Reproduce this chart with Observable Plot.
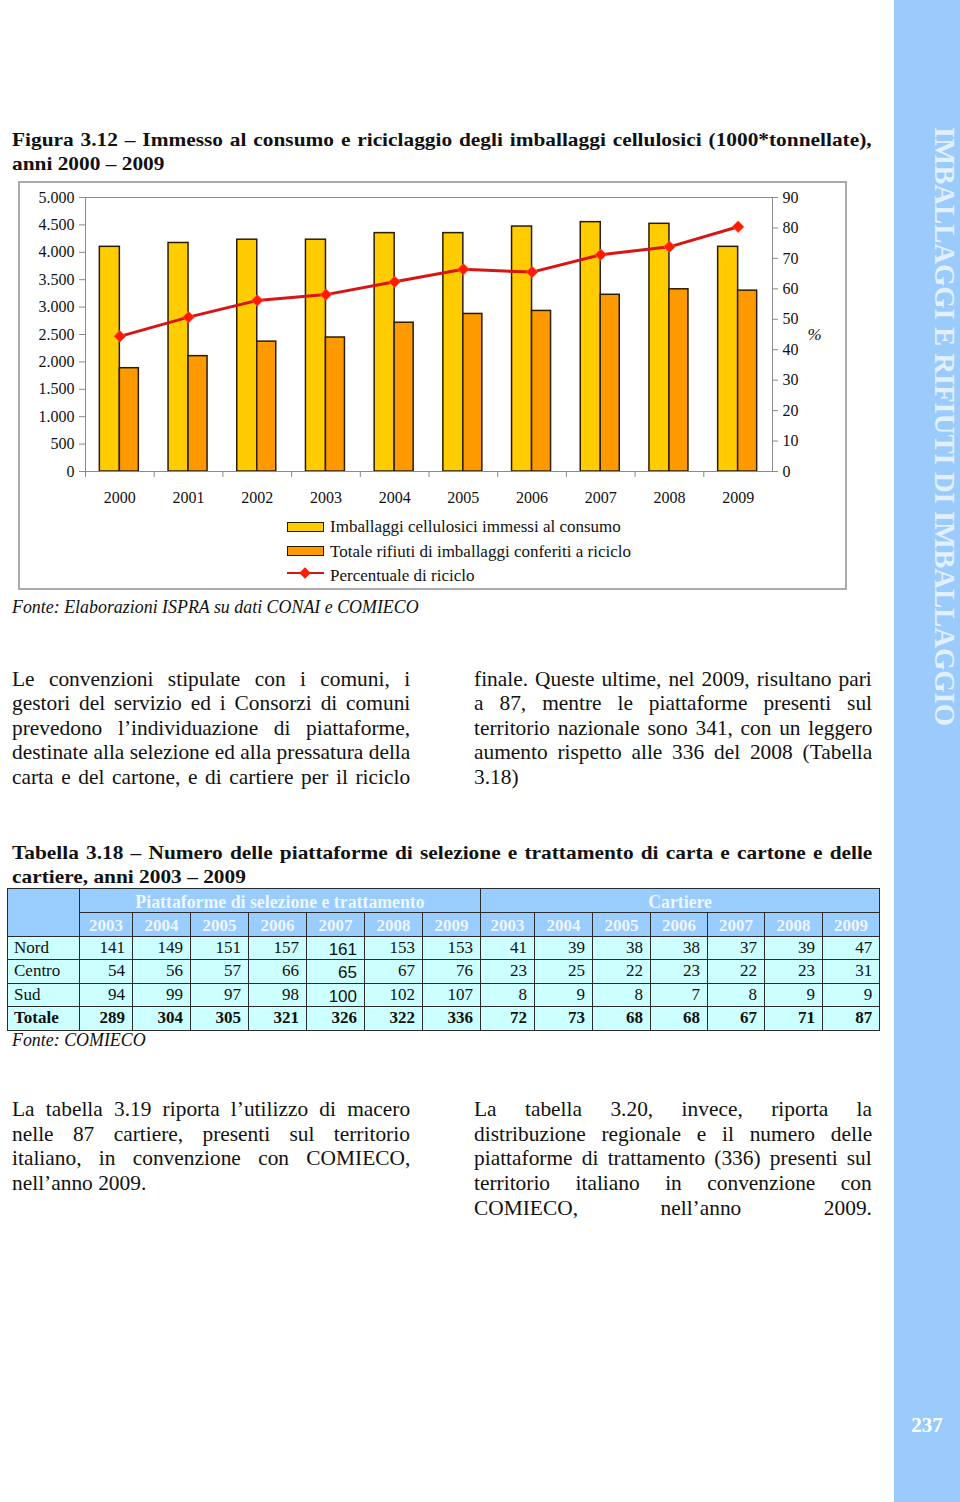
<!DOCTYPE html>
<html><head><meta charset="utf-8">
<script src="https://cdn.jsdelivr.net/npm/d3@7"></script>
<script src="https://cdn.jsdelivr.net/npm/@observablehq/plot@0.6"></script>
<style>
html,body{margin:0;padding:0;background:#fff;}
#page{position:relative;width:960px;height:1502px;overflow:hidden;font-family:"Liberation Serif","Times New Roman",serif;color:#111;}
.ln{position:absolute;line-height:1;white-space:nowrap;transform-origin:0 0;}
#tab{position:absolute;left:7px;top:888px;border-collapse:collapse;table-layout:fixed;width:872px;font-family:"Liberation Serif",serif;font-size:17px;color:#111;}
#tab td{border:1px solid #2a2a2a;padding:0 7px 0 6px;background:#CCFFFF;text-align:right;vertical-align:middle;white-space:nowrap;overflow:hidden;}
#tab td.h{background:#99CCFF;color:#EEF6FF;font-weight:bold;text-align:center;vertical-align:bottom;line-height:20px;padding:0;}
#tab td.g{font-size:17.8px;}
#tab td.lab{text-align:left;}
#tab .sans{font-family:"Liberation Sans",Arial,sans-serif;position:relative;top:2px;}
.sw{position:absolute;box-sizing:border-box;}
</style></head><body><div id="page"></div>
<script>
// ---------- chart data ----------
const years = [2000, 2001, 2002, 2003, 2004, 2005, 2006, 2007, 2008, 2009];
const immessi = [4100, 4170, 4230, 4230, 4350, 4350, 4470, 4550, 4520, 4100];
const riciclo = [1885, 2105, 2370, 2445, 2715, 2875, 2930, 3225, 3325, 3300];
const percentuale = [44.4, 50.7, 56.2, 58.1, 62.3, 66.4, 65.5, 71.2, 73.8, 80.4];
const yTicks = [0, 500, 1000, 1500, 2000, 2500, 3000, 3500, 4000, 4500, 5000];
const pctTicks = [0, 10, 20, 30, 40, 50, 60, 70, 80, 90];
const legendLabels = ["Imballaggi cellulosici immessi al consumo", "Totale rifiuti di imballaggi conferiti a riciclo", "Percentuale di riciclo"];

// ---------- table data ----------
const tabYears = [2003, 2004, 2005, 2006, 2007, 2008, 2009];
const regioni = ["Nord", "Centro", "Sud", "Totale"];
const piattNord = [141, 149, 151, 157, 161, 153, 153];
const piattCentro = [54, 56, 57, 66, 65, 67, 76];
const piattSud = [94, 99, 97, 98, 100, 102, 107];
const piattTotale = [289, 304, 305, 321, 326, 322, 336];
const cartNord = [41, 39, 38, 38, 37, 39, 47];
const cartCentro = [23, 25, 22, 23, 22, 23, 31];
const cartSud = [8, 9, 8, 7, 8, 9, 9];
const cartTotale = [72, 73, 68, 68, 67, 71, 87];

// ---------- texts ----------
const figTitle = ["Figura 3.12 – Immesso al consumo e riciclaggio degli imballaggi cellulosici (1000*tonnellate),", "anni 2000 – 2009"];
const figFonte = "Fonte: Elaborazioni ISPRA su dati CONAI e COMIECO";
const textLeft1 = ["Le convenzioni stipulate con i comuni, i", "gestori del servizio ed i Consorzi di comuni", "prevedono l’individuazione di piattaforme,", "destinate alla selezione ed alla pressatura della", "carta e del cartone, e di cartiere per il riciclo"];
const textRight1 = ["finale. Queste ultime, nel 2009, risultano pari", "a 87, mentre le piattaforme presenti sul", "territorio nazionale sono 341, con un leggero", "aumento rispetto alle 336 del 2008 (Tabella", "3.18)"];
const tabTitle = ["Tabella 3.18 – Numero delle piattaforme di selezione e trattamento di carta e cartone e delle", "cartiere, anni 2003 – 2009"];
const tabGroups = ["Piattaforme di selezione e trattamento", "Cartiere"];
const tabFonte = "Fonte: COMIECO";
const textLeft2 = ["La tabella 3.19 riporta l’utilizzo di macero", "nelle 87 cartiere, presenti sul territorio", "italiano, in convenzione con COMIECO,", "nell’anno 2009."];
const textRight2 = ["La tabella 3.20, invece, riporta la", "distribuzione regionale e il numero delle", "piattaforme di trattamento (336) presenti sul", "territorio italiano in convenzione con", "COMIECO, nell’anno 2009."];
const sideText = "IMBALLAGGI E RIFIUTI DI IMBALLAGGIO";
const pageNum = "237";

const page = document.getElementById("page");

// one line of text placed by its baseline; optional horizontal scale k and justification to width w
function line(txt, o) {
  const d = document.createElement("div");
  d.className = "ln";
  const s = o.size, k = o.k || 1;
  d.style.left = o.x + "px";
  d.style.top = (o.base - 0.8375 * s) + "px";
  d.style.fontSize = s + "px";
  if (o.bold) d.style.fontWeight = "bold";
  if (o.italic) d.style.fontStyle = "italic";
  const sp = document.createElement("span");
  sp.textContent = txt;
  d.appendChild(sp);
  page.appendChild(d);
  if (o.j) {
    const n = (txt.match(/ /g) || []).length;
    const nat = sp.offsetWidth;
    if (n > 0) d.style.wordSpacing = ((o.w / k - nat) / n) + "px";
  }
  if (k !== 1) d.style.transform = `scaleX(${k})`;
  return d;
}

// sidebar
const side = document.createElement("div");
side.style.cssText = "position:absolute;left:894px;top:0;width:66px;height:1502px;background:#9BCBFB;";
page.appendChild(side);
const ns = "http://www.w3.org/2000/svg";
const sSvg = document.createElementNS(ns, "svg");
sSvg.setAttribute("width", 66); sSvg.setAttribute("height", 1502);
sSvg.style.cssText = "position:absolute;left:894px;top:0;";
const sT = document.createElementNS(ns, "text");
sT.setAttribute("transform", "translate(40.5,127) rotate(90)");
sT.setAttribute("textLength", "599");
sT.setAttribute("lengthAdjust", "spacingAndGlyphs");
sT.setAttribute("font-family", "Liberation Serif");
sT.setAttribute("font-weight", "bold");
sT.setAttribute("font-size", "29");
sT.setAttribute("fill", "#E2F0FE");
sT.textContent = sideText;
sSvg.appendChild(sT);
const pT = document.createElementNS(ns, "text");
pT.setAttribute("x", 33); pT.setAttribute("y", 1432);
pT.setAttribute("text-anchor", "middle");
pT.setAttribute("font-family", "Liberation Serif");
pT.setAttribute("font-weight", "bold");
pT.setAttribute("font-size", "21");
pT.setAttribute("fill", "#FFFFFF");
pT.textContent = pageNum;
sSvg.appendChild(pT);
page.appendChild(sSvg);

// titles
const tS = 19.5, tK = 1.095;
line(figTitle[0], {x: 12, w: 860, base: 146.7, size: tS, k: tK, bold: true, j: true});
line(figTitle[1], {x: 12, base: 170.7, size: tS, k: tK, bold: true});

// chart box
const box = document.createElement("div");
box.style.cssText = "position:absolute;left:18px;top:181px;width:829px;height:409px;border:2px solid #ABABAB;box-sizing:border-box;";
page.appendChild(box);

const W = 826, H = 328, ML = 65, MR = 74, MT = 14, MB = 40;
const bw = (W - ML - MR) / years.length;
const yMax = 5000, pMax = 90;
const toY = p => p * yMax / pMax;
const chartData = years.map((y, i) => ({year: String(y), immessi: immessi[i], riciclo: riciclo[i], pct: percentuale[i]}));
const itFmt = d3.formatLocale({decimal: ",", thousands: ".", grouping: [3], currency: ["€", ""]}).format(",d");

const chart = Plot.plot({
  width: W, height: H, marginLeft: ML, marginRight: MR, marginTop: MT, marginBottom: MB,
  style: {fontFamily: "Liberation Serif", fontSize: "16px", background: "transparent", color: "#111", overflow: "visible"},
  x: {domain: years.map(String), padding: 0, round: false, axis: null},
  y: {domain: [0, yMax], axis: null},
  marks: [
    Plot.barY(chartData, {x: "year", y: "immessi", fill: "#FFCC00", stroke: "#2b1d05", strokeWidth: 1.5, insetLeft: bw / 2 - 20, insetRight: bw / 2}),
    Plot.barY(chartData, {x: "year", y: "riciclo", fill: "#FF9900", stroke: "#2b1d05", strokeWidth: 1.5, insetLeft: bw / 2, insetRight: bw / 2 - 19}),
    Plot.frame({stroke: "#8a8a8a"}),
    Plot.axisY(yTicks, {anchor: "left", tickSize: 6, tickPadding: 5, tickFormat: itFmt, stroke: "#8a8a8a", fill: "#111", label: null}),
    Plot.axisY(pctTicks.map(toY), {anchor: "right", tickSize: 5, tickPadding: 5, tickFormat: d => Math.round(d * pMax / yMax), stroke: "#8a8a8a", fill: "#111", label: null}),
    Plot.axisX({tickSize: 0, tickPadding: 20, fill: "#111", label: null}),
    Plot.axisX({tickSize: 6, tickFormat: () => "", dx: -bw / 2, stroke: "#8a8a8a", label: null}),
    Plot.line(chartData, {x: "year", y: d => toY(d.pct), stroke: "#D81515", strokeWidth: 3}),
    Plot.dot(chartData, {x: "year", y: d => toY(d.pct), symbol: "diamond2", r: 5.2, fill: "#FF1A00", stroke: "#FF5A3A", strokeWidth: 0.8}),
    Plot.text(["%"], {frameAnchor: "right", dx: 42, textAnchor: "middle", fontStyle: "italic", fontSize: 17})
  ]
});
chart.style.position = "absolute";
chart.style.left = "20px";
chart.style.top = "183px";
page.appendChild(chart);

// legend
const swFill = ["#FFCC00", "#FF9900"];
[522, 546].forEach((t, i) => {
  const s = document.createElement("div");
  s.className = "sw";
  s.style.cssText += `left:287px;top:${t}px;width:37px;height:9.5px;background:${swFill[i]};border:1.5px solid #2b1d05;`;
  page.appendChild(s);
});
{
  const l = document.createElement("div");
  l.className = "sw";
  l.style.cssText += "left:287px;top:571.7px;width:37px;height:2.6px;background:#D81515;";
  page.appendChild(l);
  const dm = document.createElement("div");
  dm.className = "sw";
  dm.style.cssText += "left:301px;top:569px;width:8px;height:8px;background:#FF1A00;transform:rotate(45deg);";
  page.appendChild(dm);
}
[532.5, 557.3, 581].forEach((b, i) => line(legendLabels[i], {x: 330, base: b, size: 17}));

line(figFonte, {x: 12, base: 614.3, size: 17.9, italic: true});

// body text 1
const bS = 20.3, bK = 1.055;
[685.7, 710.2, 734.7, 759.2, 783.7].forEach((b, i) => {
  line(textLeft1[i], {x: 12, w: 398, base: b, size: bS, k: bK, j: true});
  line(textRight1[i], {x: 474, w: 398, base: b, size: bS, k: bK, j: i < 4});
});

// table title
line(tabTitle[0], {x: 12, w: 860, base: 859.5, size: tS, k: tK, bold: true, j: true});
line(tabTitle[1], {x: 12, base: 883, size: tS, k: tK, bold: true});

// table
const tab = document.createElement("table");
tab.id = "tab";
const cg = document.createElement("colgroup");
[72, 53, 58, 58, 58, 58, 58, 58, 54, 58, 58, 57, 57, 58, 57].forEach(w => {
  const c = document.createElement("col"); c.style.width = w + "px"; cg.appendChild(c);
});
tab.appendChild(cg);
const rowH = [24, 23.5, 23.5, 23.5, 23.5, 23.5];
function tr(h) { const r = document.createElement("tr"); r.style.height = h + "px"; tab.appendChild(r); return r; }
function td(r, txt, cls, attrs) {
  const c = document.createElement("td");
  if (cls) c.className = cls;
  if (attrs) for (const k in attrs) c.setAttribute(k, attrs[k]);
  if (txt instanceof Node) c.appendChild(txt); else c.textContent = txt;
  r.appendChild(c); return c;
}
const r0 = tr(rowH[0]);
td(r0, "", "h", {rowspan: 2});
td(r0, tabGroups[0], "h g", {colspan: 7});
td(r0, tabGroups[1], "h g", {colspan: 7});
const r1 = tr(rowH[1]);
tabYears.forEach(y => td(r1, String(y), "h"));
tabYears.forEach(y => td(r1, String(y), "h"));
const piatt = [piattNord, piattCentro, piattSud, piattTotale];
const cart = [cartNord, cartCentro, cartSud, cartTotale];
regioni.forEach((reg, i) => {
  const r = tr(rowH[i + 2]);
  const bold = i === 3;
  const l = td(r, reg, "lab");
  if (bold) l.style.fontWeight = "bold";
  piatt[i].forEach((v, j) => {
    let c;
    if (tabYears[j] === 2007 && !bold) {
      const sp = document.createElement("span"); sp.className = "sans"; sp.textContent = v;
      c = td(r, sp);
    } else c = td(r, String(v));
    if (bold) c.style.fontWeight = "bold";
  });
  cart[i].forEach(v => {
    const c = td(r, String(v));
    if (bold) c.style.fontWeight = "bold";
  });
});
page.appendChild(tab);

line(tabFonte, {x: 12, base: 1047, size: 17.9, italic: true});

// body text 2
[1116.2, 1140.8, 1165.5, 1190.2, 1214.8].forEach((b, i) => {
  if (i < textLeft2.length) line(textLeft2[i], {x: 12, w: 398, base: b, size: bS, k: bK, j: i < 3});
  line(textRight2[i], {x: 474, w: 398, base: b, size: bS, k: bK, j: true});
});
</script></body></html>
